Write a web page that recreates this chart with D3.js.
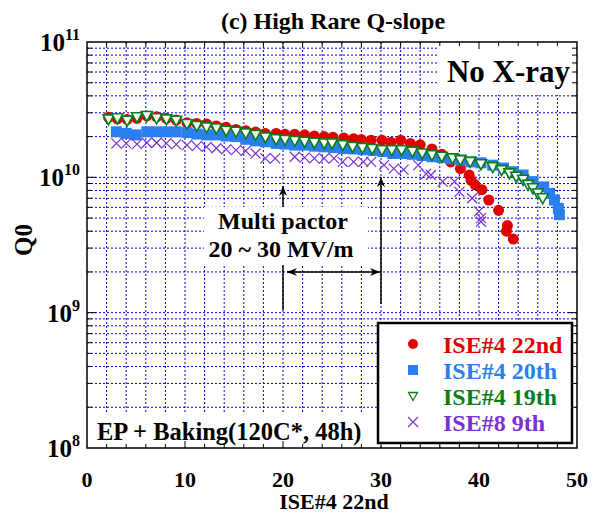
<!doctype html>
<html>
<head>
<style>
  body { margin: 0; background: #fff; }
  text { font-family: "Liberation Serif", "Times New Roman", serif; font-weight: bold; }
  .grid line { stroke: #0000dd; stroke-dasharray: 2,2; stroke-width: 1; }
</style>
<script src="https://d3js.org/d3.v7.min.js"></script>
</head>
<body>
<svg width="602" height="518"></svg>
<script>
// ISE#4 22nd
var redX = [2.2,3.1,4.1,5.1,6.1,7.1,8.1,9.1,10.2,11.2,12.2,13.2,14.2,15.2,16.2,17.2,18.2,19.3,20.2,21.2,22.2,23.2,24.2,25.1,26.2,27.2,28.0,29.0,30.1,31.0,32.0,33.0,34.0,35.2,36.2,37.1,38.1,39.0,39.2,39.6,40.3,41.0,42.0,42.9,42.8,43.5];
var redY = [2.78,2.7,2.68,2.73,2.84,2.8,2.73,2.65,2.53,2.5,2.48,2.4,2.34,2.26,2.21,2.16,2.11,2.11,2.08,2.08,2.06,2.02,2.0,1.98,1.95,1.93,1.9,1.88,1.88,1.82,1.88,1.78,1.74,1.62,1.48,1.3,1.16,1.04,0.95,0.88,0.81,0.68,0.57,0.44,0.40,0.35];
// ISE#4 20th
var blueX = [3.0,4.0,5.0,6.1,7.1,8.1,9.1,10.2,11.2,12.2,13.2,14.2,15.2,16.2,17.2,18.2,19.3,20.2,21.2,22.2,23.2,24.2,25.2,26.2,27.2,28.2,29.2,30.2,31.2,32.2,33.2,34.2,35.2,36.2,37.2,38.2,39.2,40.2,41.4,42.5,43.5,44.5,45.5,46.6,47.2,47.7,48.1,48.2];
var blueY = [2.17,2.11,2.06,2.17,2.17,2.17,2.17,2.14,2.09,2.06,2.06,2.02,2.0,1.91,1.86,1.83,1.78,1.76,1.73,1.73,1.7,1.68,1.66,1.63,1.62,1.6,1.58,1.55,1.5,1.5,1.48,1.45,1.42,1.4,1.37,1.34,1.3,1.28,1.23,1.17,1.1,1.04,0.93,0.85,0.76,0.68,0.59,0.53];
// ISE#4 19th
var greenX = [2.2,3.1,4.1,5.1,6.1,7.1,8.1,9.1,10.2,11.2,12.2,13.2,14.2,15.2,16.2,17.2,18.2,19.3,20.2,21.2,22.2,23.2,24.2,25.0,26.1,27.1,28.1,29.1,30.1,31.1,32.1,33.2,34.2,35.2,36.2,37.3,38.1,39.1,40.2,41.4,42.3,43.1,43.8,44.5,45.0,45.5,46.0,46.5];
var greenY = [2.68,2.73,2.62,2.78,2.84,2.73,2.68,2.62,2.48,2.4,2.34,2.3,2.21,2.17,2.11,2.06,1.97,1.91,1.89,1.86,1.83,1.8,1.78,1.78,1.73,1.68,1.65,1.62,1.59,1.59,1.59,1.55,1.5,1.46,1.42,1.38,1.34,1.3,1.25,1.19,1.13,1.07,1.01,0.96,0.88,0.83,0.76,0.7];
// ISE#8 9th
var purpleX = [3.0,4.0,5.1,6.1,7.1,8.1,9.1,10.2,11.2,12.2,13.2,14.2,15.2,16.2,17.2,18.2,19.2,21.2,22.2,23.2,24.2,25.2,26.1,27.2,28.2,29.0,30.3,31.3,32.3,33.8,34.6,35.1,36.3,37.5,38.0,39.3,40.0,40.2,40.2];
var purpleY = [1.78,1.78,1.76,1.8,1.8,1.78,1.75,1.73,1.7,1.68,1.64,1.61,1.59,1.57,1.5,1.38,1.38,1.42,1.4,1.38,1.38,1.38,1.3,1.3,1.3,1.3,1.23,1.16,1.14,1.23,1.06,1.04,0.93,0.93,0.78,0.70,0.56,0.50,0.47];

var seriesNames = ["ISE#4 22nd", "ISE#4 20th", "ISE#4 19th", "ISE#8 9th"];
var xTicks = [0, 10, 20, 30, 40, 50];
var yExponents = [8, 9, 10, 11];

var svg = d3.select("svg");
var pLeft = 87, pTop = 42, width = 490, height = 406;

var x = d3.scaleLinear().domain([0, 50]).range([pLeft, pLeft + width]);
var y = d3.scaleLog().domain([1e8, 1e11]).range([pTop + height, pTop]);

// grid
var grid = svg.append("g").attr("class", "grid");
d3.range(2, 50, 2).forEach(function (v) {
  grid.append("line").attr("x1", x(v)).attr("x2", x(v)).attr("y1", pTop).attr("y2", pTop + height);
});
var yMinor = [];
[8, 9, 10].forEach(function (e) {
  d3.range(1, 10).forEach(function (m) { if (!(e === 8 && m === 1)) yMinor.push(m * Math.pow(10, e)); });
});
yMinor.forEach(function (v) {
  grid.append("line").attr("x1", pLeft).attr("x2", pLeft + width).attr("y1", y(v)).attr("y2", y(v));
});

// white boxes behind texts
svg.append("rect").attr("x", 438).attr("y", pTop + 1).attr("width", pLeft + width - 439).attr("height", 52).attr("fill", "#fff");
svg.append("rect").attr("x", 204).attr("y", 207).attr("width", 164).attr("height", 57).attr("fill", "#fff");
svg.append("rect").attr("x", pLeft + 1).attr("y", 412).attr("width", 284).attr("height", 35).attr("fill", "#fff");

// annotation arrows
svg.append("defs").append("marker")
  .attr("id", "ah").attr("viewBox", "0 0 10 10").attr("refX", 10).attr("refY", 5)
  .attr("markerWidth", 10).attr("markerHeight", 10).attr("orient", "auto-start-reverse")
  .attr("markerUnits", "userSpaceOnUse")
  .append("path").attr("d", "M0,1 L10,5 L0,9 L3,5 Z").attr("fill", "#000");

svg.append("line").attr("x1", x(20)).attr("x2", x(20)).attr("y1", 207).attr("y2", 186)
  .attr("stroke", "#000").attr("stroke-width", 1.5).attr("marker-end", "url(#ah)");
svg.append("line").attr("x1", x(20)).attr("x2", x(20)).attr("y1", 265).attr("y2", 310)
  .attr("stroke", "#000").attr("stroke-width", 1.5);
svg.append("line").attr("x1", x(30)).attr("x2", x(30)).attr("y1", 304).attr("y2", 177)
  .attr("stroke", "#000").attr("stroke-width", 1.5).attr("marker-end", "url(#ah)");
svg.append("line").attr("x1", x(20) + 4).attr("x2", x(30) - 1).attr("y1", 272).attr("y2", 272)
  .attr("stroke", "#000").attr("stroke-width", 1.5)
  .attr("marker-start", "url(#ah)").attr("marker-end", "url(#ah)");

svg.append("text").attr("x", 283).attr("y", 229).attr("text-anchor", "middle").attr("font-size", 24).text("Multi pactor");
svg.append("text").attr("x", 281).attr("y", 257).attr("text-anchor", "middle").attr("font-size", 24).text("20 ~ 30 MV/m");

// data
function pts(xs, ys) { return xs.map(function (v, i) { return [v, ys[i] * 1e10]; }); }
var red = "#e00000", blue = "#2a7ff0", green = "#0a7d1a", purple = "#7a2fd6";

svg.append("g").selectAll("circle").data(pts(redX, redY)).enter().append("circle")
  .attr("cx", d => x(d[0])).attr("cy", d => y(d[1])).attr("r", 5.5).attr("fill", red);
svg.append("g").selectAll("rect").data(pts(blueX, blueY)).enter().append("rect")
  .attr("x", d => x(d[0]) - 5.5).attr("y", d => y(d[1]) - 5.5).attr("width", 11).attr("height", 11).attr("fill", blue);
var tri = "M-5.5,-4.5 L5.5,-4.5 L0,5.5 Z";
svg.append("g").selectAll("path").data(pts(greenX, greenY)).enter().append("path")
  .attr("transform", d => "translate(" + x(d[0]) + "," + y(d[1]) + ")")
  .attr("d", tri).attr("fill", "#fff").attr("stroke", green).attr("stroke-width", 1.6);
var cross = "M-5,-5 L5,5 M-5,5 L5,-5";
svg.append("g").selectAll("path").data(pts(purpleX, purpleY)).enter().append("path")
  .attr("transform", d => "translate(" + x(d[0]) + "," + y(d[1]) + ")")
  .attr("d", cross).attr("fill", "none").attr("stroke", purple).attr("stroke-width", 1.2);

// ticks (inside)
var ticks = svg.append("g").attr("stroke", "#000").attr("stroke-width", 1);
d3.range(2, 50, 2).forEach(function (v) {
  var len = v % 10 === 0 ? 7 : 4;
  ticks.append("line").attr("x1", x(v)).attr("x2", x(v)).attr("y1", pTop + height).attr("y2", pTop + height - len);
  ticks.append("line").attr("x1", x(v)).attr("x2", x(v)).attr("y1", pTop).attr("y2", pTop + len);
});
yMinor.forEach(function (v) {
  var len = (Math.abs(Math.log10(v) % 1) < 1e-9) ? 9 : 5;
  ticks.append("line").attr("x1", pLeft).attr("x2", pLeft + len).attr("y1", y(v)).attr("y2", y(v));
  ticks.append("line").attr("x1", pLeft + width).attr("x2", pLeft + width - len).attr("y1", y(v)).attr("y2", y(v));
});

// frame
svg.append("rect").attr("x", pLeft).attr("y", pTop).attr("width", width).attr("height", height)
  .attr("fill", "none").attr("stroke", "#000").attr("stroke-width", 1.5);

// texts
svg.append("text").attr("x", 570).attr("y", 82).attr("text-anchor", "end").attr("font-size", 31).text("No X-ray");
svg.append("text").attr("x", 97).attr("y", 440).attr("font-size", 24.5).text("EP + Baking(120C*, 48h)");

// legend
var lg = svg.append("g");
lg.append("rect").attr("x", 378).attr("y", 323).attr("width", 194).attr("height", 120)
  .attr("fill", "#fff").attr("stroke", "#000").attr("stroke-width", 2.5);
var colors = [red, blue, green, purple];
seriesNames.forEach(function (name, i) {
  var cy = 344 + i * 26;
  var mx = 413;
  if (i === 0) lg.append("circle").attr("cx", mx).attr("cy", cy).attr("r", 5).attr("fill", red);
  if (i === 1) lg.append("rect").attr("x", mx - 5).attr("y", cy - 5).attr("width", 10).attr("height", 10).attr("fill", blue);
  if (i === 2) lg.append("path").attr("transform", "translate(" + mx + "," + cy + ")").attr("d", "M-4.5,-3.5 L4.5,-3.5 L0,4.5 Z")
    .attr("fill", "#fff").attr("stroke", green).attr("stroke-width", 1.3);
  if (i === 3) lg.append("path").attr("transform", "translate(" + mx + "," + cy + ")").attr("d", cross)
    .attr("fill", "none").attr("stroke", purple).attr("stroke-width", 1.1);
  lg.append("text").attr("x", 443).attr("y", cy + 9).attr("font-size", 24).attr("fill", colors[i]).text(name);
});

// axis labels
xTicks.forEach(function (v) {
  svg.append("text").attr("x", x(v)).attr("y", 487).attr("text-anchor", "middle").attr("font-size", 22).text(v);
});
yExponents.forEach(function (e) {
  var t = svg.append("text").attr("x", 80).attr("y", y(Math.pow(10, e)) + 9).attr("text-anchor", "end").attr("font-size", 25);
  t.append("tspan").text("10");
  t.append("tspan").attr("dy", -11).attr("font-size", 16).text(e);
});

svg.append("text").attr("x", 333).attr("y", 29).attr("text-anchor", "middle").attr("font-size", 24).text("(c) High Rare Q-slope");
svg.append("text").attr("x", 334).attr("y", 509).attr("text-anchor", "middle").attr("font-size", 22).text("ISE#4 22nd");
svg.append("text").attr("transform", "translate(32,240) rotate(-90)").attr("text-anchor", "middle").attr("font-size", 25).text("Q0");
</script>
</body>
</html>
